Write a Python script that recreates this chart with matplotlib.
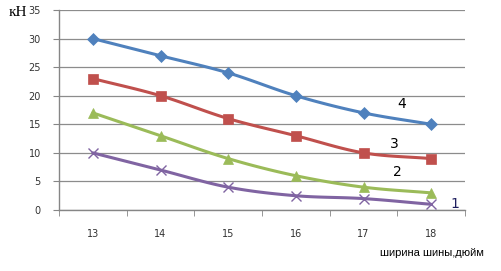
import numpy as np
import matplotlib
matplotlib.use("Agg")
import matplotlib.pyplot as plt

# --- datos ---
shirina = [13, 14, 15, 16, 17, 18]
serie_1 = [10, 7, 4, 2.5, 2, 1]
serie_2 = [17, 13, 9, 6, 4, 3]
serie_3 = [23, 20, 16, 13, 10, 9]
serie_4 = [30, 27, 24, 20, 17, 15]
nombres = ["1", "2", "3", "4"]


def suave(x, y, n=20):
    # curva suavizada tipo Excel (Catmull-Rom)
    x = np.asarray(x, float)
    y = np.asarray(y, float)
    px = np.concatenate([[2 * x[0] - x[1]], x, [2 * x[-1] - x[-2]]])
    py = np.concatenate([[2 * y[0] - y[1]], y, [2 * y[-1] - y[-2]]])
    xs, ys = [], []
    t = np.linspace(0, 1, n)
    for i in range(1, len(px) - 2):
        for p, out in ((px, xs), (py, ys)):
            p0, p1, p2, p3 = p[i - 1], p[i], p[i + 1], p[i + 2]
            out.extend(0.5 * ((2 * p1) + (-p0 + p2) * t
                              + (2 * p0 - 5 * p1 + 4 * p2 - p3) * t ** 2
                              + (-p0 + 3 * p1 - 3 * p2 + p3) * t ** 3))
    return xs, ys


fig = plt.figure(figsize=(5.02, 2.71), dpi=100)
ax = fig.add_axes([0.1175, 0.225, 0.809, 0.738])

estilos = [
    (serie_1, "#8064A2", "x", 7, 1.0),
    (serie_2, "#9BBB59", "^", 7, 0),
    (serie_3, "#C0504D", "s", 7, 0),
    (serie_4, "#4F81BD", "D", 6, 0),
]
for datos, color, marca, ms, mew in estilos:
    xs, ys = suave(shirina, datos)
    ax.plot(xs, ys, color=color, lw=2.2, zorder=3, solid_capstyle="round")
    ax.plot(shirina, datos, ls="none", marker=marca, ms=ms, color=color,
            mec=color, mew=mew if mew else 0.5, zorder=4)

ax.set_xlim(12.5, 18.5)
ax.set_ylim(0, 35)
ax.set_yticks(range(0, 36, 5))
ax.set_xticks(shirina)
ax.set_xticks(np.arange(12.5, 18.6, 1), minor=True)
ax.tick_params(axis="x", which="major", length=0, pad=14, labelsize=7, colors="#333333")
ax.tick_params(axis="x", which="minor", length=4, color="#868686", direction="out")
ax.tick_params(axis="y", length=4, color="#868686", labelsize=7, colors="#333333", pad=9)
ax.grid(axis="y", color="#8c8c8c", lw=0.9)
ax.set_axisbelow(True)
for lado in ("top", "right"):
    ax.spines[lado].set_visible(False)
ax.spines["left"].set_color("#868686")
ax.spines["bottom"].set_color("#868686")
ax.spines["left"].set_linewidth(1.0)
ax.spines["bottom"].set_linewidth(1.0)

# etiquetas de las curvas
ax.text(17.56, 18.6, nombres[3], fontsize=10, ha="center", va="center")
ax.text(17.45, 11.5, nombres[2], fontsize=10, ha="center", va="center")
ax.text(17.5, 6.6, nombres[1], fontsize=10, ha="center", va="center")
ax.text(18.35, 1.0, nombres[0], fontsize=10, ha="center", va="center", color="#1f1f5f")

fig.text(0.035, 0.955, "кН", fontsize=11, family="Liberation Serif", ha="center", va="center")
fig.text(0.86, 0.067, "ширина шины,дюйм", fontsize=8, ha="center", va="center",
         family="Liberation Sans")

fig.savefig("out.png", dpi=100)
